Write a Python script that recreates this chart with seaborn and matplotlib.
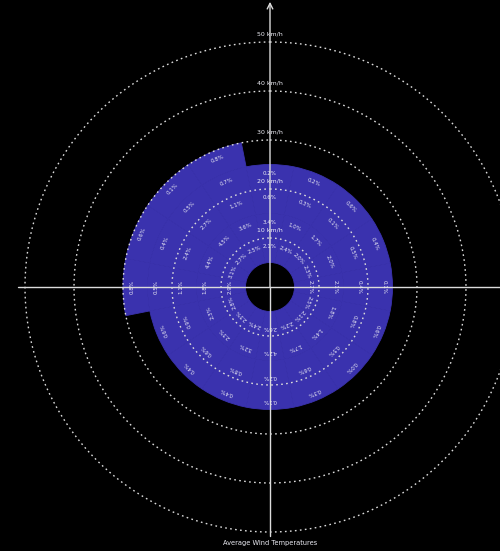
import numpy as np
import pandas as pd
import matplotlib
matplotlib.use("Agg")
import matplotlib.pyplot as plt
import seaborn as sns

# Compass sectors (clockwise from north)
directions = ["N", "NNE", "NE", "ENE", "E", "ESE", "SE", "SSE",
              "S", "SSW", "SW", "WSW", "W", "WNW", "NW", "NNW"]
angles_deg = [0, 22.5, 45, 67.5, 90, 112.5, 135, 157.5,
              180, 202.5, 225, 247.5, 270, 292.5, 315, 337.5]

# Speed bins in km/h and share of observations (%) per sector
bin_edges = [5, 10, 15, 20, 25, 30]
pct_5_10 = [2.1, 2.4, 2.0, 2.3, 2.7, 2.5, 2.1, 2.2, 2.6, 2.4, 2.3, 2.8, 2.9, 3.1, 2.7, 2.5]
pct_10_15 = [3.4, 1.0, 1.7, 2.0, 2.1, 1.8, 1.4, 1.7, 4.2, 3.2, 2.3, 2.3, 1.8, 4.4, 4.5, 3.6]
pct_15_20 = [0.6, 0.3, 0.1, 0.5, 0.4, 0.8, 0.5, 0.6, 0.2, 0.8, 0.6, 0.9, 1.1, 2.4, 2.7, 1.1]
pct_20_25 = [0.2, 0.2, 0.6, 0.4, 0.1, 0.6, 0.0, 0.3, 0.1, 0.4, 0.4, 0.6, 0.5, 0.4, 0.5, 0.7]
pct_25_30 = [np.nan] * 12 + [0.8, 0.6, 0.1, 0.8]
bin_pcts = [pct_5_10, pct_10_15, pct_15_20, pct_20_25, pct_25_30]

# Reference speed circles
speed_rings = [10, 20, 30, 40, 50]
speed_labels = ["10 km/h", "20 km/h", "30 km/h", "40 km/h", "50 km/h"]
title = "Average Wind Temperatures"

BLUE = "#3a32ae"
LINE = "#dcdcdc"
TXT = "#ececf4"

sns.set_theme(style="dark")
plt.rcParams["font.family"] = ["DejaVu Sans"]

W, H = 500, 551
fig = plt.figure(figsize=(W / 100, H / 100), dpi=100, facecolor="black")

# Polar axes: centre at (270, 287) px, 4.9 px per km/h
scale = 4.9
rmax = 58.6
cx, cy = 270, 287
side = 2 * rmax * scale
ax = fig.add_axes([(cx - side / 2) / W, ((H - cy) - side / 2) / H, side / W, side / H],
                  projection="polar")
ax.set_facecolor("black")
ax.set_theta_zero_location("N")
ax.set_theta_direction(-1)

theta = np.deg2rad(angles_deg)
width = np.deg2rad(22.5)

# Stacked speed-bin wedges
for lo, hi, pcts in zip(bin_edges[:-1], bin_edges[1:], bin_pcts):
    vals = np.array(pcts, dtype=float)
    mask = np.isfinite(vals)
    ax.bar(theta[mask], np.full(mask.sum(), hi - lo), width=width, bottom=lo,
           color=BLUE, edgecolor=BLUE, linewidth=0.6, align="center", zorder=1)
    # percentage labels, turned with their sector
    r_lab = (lo + hi) / 2 + 0.7
    for th, a, v in zip(theta[mask], np.array(angles_deg)[mask], vals[mask]):
        ax.text(th, r_lab, f"{v:.1f}%", rotation=-a, rotation_mode="anchor",
                ha="center", va="center", fontsize=4, color=TXT, zorder=5)

# Dashed speed circles
t = np.linspace(0, 2 * np.pi, 721)
rings_df = pd.DataFrame({
    "theta": np.tile(t, len(speed_rings)),
    "r": np.repeat(speed_rings, len(t)),
    "ring": np.repeat(speed_rings, len(t)),
})
sns.lineplot(data=rings_df, x="theta", y="r", units="ring", estimator=None,
             color=LINE, linewidth=1.0, linestyle=(0, (1.2, 2.4)),
             legend=False, sort=False, ax=ax, zorder=2)

for r, lab in zip(speed_rings, speed_labels):
    ax.text(0, r + 1.6, lab, ha="center", va="center", fontsize=4.5,
            color=TXT, zorder=5)

# Cross axes with an arrow pointing north
ax.plot([np.pi / 2, np.pi / 2], [0, 52], color=LINE, lw=1, zorder=3)
ax.plot([3 * np.pi / 2, 3 * np.pi / 2], [0, 51.5], color=LINE, lw=1, zorder=3)
ax.plot([np.pi, np.pi], [0, 50.8], color=LINE, lw=1, zorder=3)
ax.annotate("", xy=(0, 58.2), xytext=(0, 0),
            arrowprops=dict(arrowstyle="->", color=LINE, lw=1,
                            shrinkA=0, shrinkB=0, mutation_scale=10),
            zorder=3)

ax.set_rlim(0, rmax)
ax.set_xticks([])
ax.set_yticks([])
ax.set_xlabel("")
ax.set_ylabel("")
ax.grid(False)
ax.spines["polar"].set_visible(False)

fig.text(cx / W, (H - 543) / H, title, ha="center", va="center",
         fontsize=4.8, color=TXT)

fig.savefig("out.png", dpi=100, facecolor="black")
